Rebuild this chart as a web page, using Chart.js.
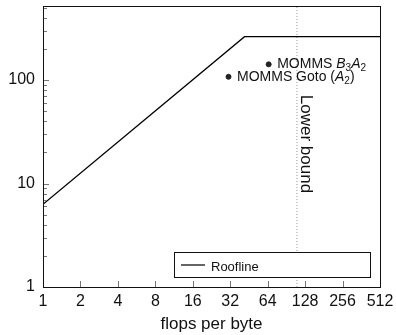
<!DOCTYPE html>
<html>
<head>
<meta charset="utf-8">
<script src="https://cdn.jsdelivr.net/npm/chart.js@4.4.1/dist/chart.umd.min.js"></script>
<style>
  html, body { margin: 0; padding: 0; background: #fff; }
</style>
</head>
<body>
<canvas id="roof" width="396" height="335"></canvas>
<script>
const FONT = '"Liberation Sans", Arial, sans-serif';

// axes
const xTicks = [1, 2, 4, 8, 16, 32, 64, 128, 256, 512];
const yTicks = [1, 10, 100];
const yMinorTicks = [2, 3, 4, 5, 6, 7, 8, 9, 20, 30, 40, 50, 60, 70, 80, 90, 200, 300, 400, 500];
const yMax = 520;

// roofline: bandwidth slope then compute peak
const rooflineX = [1, 41.7, 512];
const rooflineY = [6.3, 262.6, 262.6];

// measured kernels
const kernelX = [65.2, 31.0];
const kernelY = [141.9, 107.6];
// label runs: n = normal, i = italic, s = subscript
const kernelLabels = [
  [['MOMMS ', 'n'], ['B', 'i'], ['3', 's'], ['A', 'i'], ['2', 's']],
  [['MOMMS Goto (', 'n'], ['A', 'i'], ['2', 's'], [')', 'n']]
];

const lowerBoundX = 110;
const lowerBoundLabelY = 72;

function drawRuns(ctx, runs, x, y) {
  runs.forEach(([txt, kind]) => {
    if (kind === 's') {
      ctx.font = `10px ${FONT}`;
      ctx.fillText(txt, x, y + 3);
    } else {
      ctx.font = (kind === 'i' ? 'italic ' : '') + `14px ${FONT}`;
      ctx.fillText(txt, x, y);
    }
    x += ctx.measureText(txt).width;
  });
}

const decorations = {
  id: 'decorations',
  afterDatasetsDraw(chart) {
    const { ctx, chartArea: a, scales: { x, y } } = chart;
    ctx.save();

    // inward tick marks
    ctx.strokeStyle = '#777';
    ctx.lineWidth = 1;
    ctx.beginPath();
    xTicks.forEach(v => {
      const px = Math.round(x.getPixelForValue(v)) + 0.5;
      ctx.moveTo(px, a.bottom);
      ctx.lineTo(px, a.bottom - 6);
    });
    yTicks.forEach(v => {
      const py = Math.round(y.getPixelForValue(v)) + 0.5;
      ctx.moveTo(a.left, py);
      ctx.lineTo(a.left + 6, py);
    });
    yMinorTicks.forEach(v => {
      const py = Math.round(y.getPixelForValue(v)) + 0.5;
      ctx.moveTo(a.left, py);
      ctx.lineTo(a.left + 4, py);
    });
    ctx.stroke();

    // frame
    ctx.strokeStyle = '#111';
    ctx.strokeRect(Math.round(a.left) + 0.5, Math.round(a.top) + 0.5,
      Math.round(a.right - a.left), Math.round(a.bottom - a.top));

    // kernel labels
    ctx.fillStyle = '#111';
    ctx.textBaseline = 'alphabetic';
    ctx.textAlign = 'left';
    kernelLabels.forEach((runs, i) => {
      const px = x.getPixelForValue(kernelX[i]);
      const py = y.getPixelForValue(kernelY[i]);
      drawRuns(ctx, runs, px + 8.5, py + 4);
    });

    // lower bound label, rotated to read downward
    ctx.save();
    ctx.translate(x.getPixelForValue(lowerBoundX) + 4.5, y.getPixelForValue(lowerBoundLabelY));
    ctx.rotate(Math.PI / 2);
    ctx.font = `17px ${FONT}`;
    ctx.fillText('Lower bound', 0, 0);
    ctx.restore();

    // legend box
    const lx = Math.round(a.right - 206) + 0.5;
    const ly = Math.round(a.bottom - 35) + 0.5;
    ctx.fillStyle = '#fff';
    ctx.fillRect(lx, ly, 196, 25);
    ctx.strokeStyle = '#111';
    ctx.strokeRect(lx, ly, 196, 25);
    ctx.beginPath();
    ctx.lineWidth = 1.3;
    ctx.moveTo(lx + 6.5, ly + 12.5);
    ctx.lineTo(lx + 30.5, ly + 12.5);
    ctx.stroke();
    ctx.fillStyle = '#111';
    ctx.font = `13px ${FONT}`;
    ctx.fillText(chart.data.datasets[0].label, lx + 36.5, ly + 18);

    ctx.restore();
  }
};

const tickFont = { family: FONT, size: 16 };

new Chart(document.getElementById('roof'), {
  type: 'line',
  data: {
    datasets: [
      {
        label: 'Roofline',
        data: rooflineX.map((v, i) => ({ x: v, y: rooflineY[i] })),
        borderColor: '#000',
        borderWidth: 1.3,
        pointRadius: 0,
        tension: 0
      },
      {
        label: 'Lower bound',
        data: [{ x: lowerBoundX, y: 1 }, { x: lowerBoundX, y: yMax }],
        borderColor: '#999',
        borderWidth: 1,
        borderDash: [1, 2],
        pointRadius: 0
      },
      {
        label: 'MOMMS',
        data: kernelX.map((v, i) => ({ x: v, y: kernelY[i] })),
        showLine: false,
        pointRadius: 2.5,
        pointBackgroundColor: '#222',
        pointBorderColor: '#222'
      }
    ]
  },
  options: {
    responsive: false,
    animation: false,
    layout: { padding: { left: 6, right: 16, top: 6, bottom: 0 } },
    plugins: { legend: { display: false }, tooltip: { enabled: false } },
    scales: {
      x: {
        type: 'logarithmic',
        min: 1,
        max: 512,
        afterBuildTicks: s => { s.ticks = xTicks.map(v => ({ value: v })); },
        afterFit: s => { s.height = 48; s.paddingLeft = 0; s.paddingRight = 0; },
        ticks: { autoSkip: false, maxRotation: 0, padding: 5, color: '#111', font: tickFont, callback: v => String(v) },
        grid: { display: false, drawTicks: false },
        border: { display: false },
        title: { display: true, text: 'flops per byte', color: '#111', font: { family: FONT, size: 17 }, padding: { top: 0, bottom: 0 } }
      },
      y: {
        type: 'logarithmic',
        min: 1,
        max: yMax,
        afterBuildTicks: s => { s.ticks = yTicks.map(v => ({ value: v })); },
        afterFit: s => { s.width = 37; s.paddingTop = 0; s.paddingBottom = 0; },
        ticks: { padding: 8, color: '#111', font: tickFont, callback: v => String(v) },
        grid: { display: false, drawTicks: false },
        border: { display: false }
      }
    }
  },
  plugins: [decorations]
});
</script>
</body>
</html>
